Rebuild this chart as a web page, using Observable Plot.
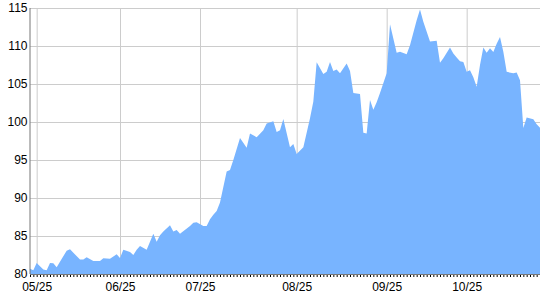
<!DOCTYPE html>
<html>
<head>
<meta charset="utf-8">
<script src="https://cdn.jsdelivr.net/npm/d3@7"></script>
<script src="https://cdn.jsdelivr.net/npm/@observablehq/plot@0.6"></script>
<style>
  html, body { margin: 0; padding: 0; background: #fff; }
  #chart { width: 540px; height: 300px; }
  svg { font-family: "Liberation Sans", Arial, sans-serif; }
</style>
</head>
<body>
<div id="chart"></div>
<script>
// trading-day index of each traced vertex
const dayIndex = [0,1,2,4,5,6,7,8,11,12,15,16,17,19,21,22,24,26,27,28,30,31,32,33,35,37,38,39,40,42,43,44,45,48,49,50,52,53,54,55,56,57,59,60,61,63,65,66,68,70,71,73,74,75,76,78,79,80,82,84,85,86,88,89,90,91,92,93,95,96,97,99,100,101,102,103,104,105,107,108,110,111,113,114,116,117,118,120,122,123,124,126,127,128,129,130,131,132,133,134,135,136,137,138,139,140,141,142,143,145,146,147,148,149,151,152,153];
const values = [80.7,80.5,81.45,80.6,80.5,81.45,81.4,80.9,83.07,83.25,81.9,81.9,82.2,81.7,81.7,82.06,82.0,82.6,82.1,83.2,82.9,82.5,83.2,83.7,83.2,85.3,84.25,85.1,85.6,86.4,85.6,85.8,85.3,86.3,86.75,86.8,86.3,86.3,87.2,87.8,88.3,89.4,93.5,93.7,95.0,97.9,96.6,98.5,98.0,98.9,99.8,100.1,98.7,98.9,100.4,96.67,97.1,95.8,96.67,100.5,102.7,107.85,106.3,106.6,107.9,106.7,106.9,106.4,107.7,106.7,103.8,103.7,98.6,98.5,102.9,101.6,102.6,103.8,106.4,112.85,109.1,109.25,108.9,110.1,113.4,114.8,113.2,110.6,110.7,107.8,108.4,109.8,109.0,108.5,108.0,107.9,106.6,106.8,105.9,104.65,107.5,109.8,109.1,109.7,109.2,110.3,111.2,109.25,106.6,106.4,106.5,105.5,99.2,100.6,100.35,99.7,99.25];
const tickIndex = [2, 27, 51, 80, 107, 131];
const tickLabels = ["05/25", "06/25", "07/25", "08/25", "09/25", "10/25"];
const yTicks = [80, 85, 90, 95, 100, 105, 110, 115];
const lastIndex = 153;

const data = dayIndex.map((d, i) => ({day: d, value: values[i]}));
const labelOf = new Map(tickIndex.map((d, i) => [d, tickLabels[i]]));

const chart = Plot.plot({
  width: 540,
  height: 300,
  marginLeft: 30,
  marginRight: 0,
  marginTop: 8,
  marginBottom: 26,
  style: {fontSize: "12px", fontFamily: "'Liberation Sans', Arial, sans-serif", color: "#000", background: "#fff"},
  x: {domain: [0, lastIndex], axis: null, label: null},
  y: {domain: [80, 115], axis: null, label: null},
  marks: [
    Plot.ruleY(yTicks, {stroke: "#cccccc", strokeWidth: 1}),
    Plot.ruleX(tickIndex, {stroke: "#cccccc", strokeWidth: 1}),
    Plot.ruleX([lastIndex], {stroke: "#cccccc", strokeWidth: 1}),
    Plot.areaY(data, {x: "day", y1: 80, y2: "value", fill: "#78b4ff", curve: "linear"}),
    Plot.axisX(d3.range(0, lastIndex + 1), {tickSize: 3, tickFormat: () => "", stroke: "#000", strokeWidth: 1, label: null}),
    Plot.axisX(tickIndex, {tickSize: 0, tickPadding: 8, tickFormat: d => labelOf.get(d), fill: "#000", label: null}),
    Plot.axisY(yTicks, {tickSize: 0, tickPadding: 3, fill: "#000", label: null}),
    Plot.ruleY([80], {stroke: "#777", strokeWidth: 1}),
    Plot.ruleX([0], {stroke: "#777", strokeWidth: 1, dx: -0.5})
  ]
});
document.getElementById("chart").appendChild(chart);
</script>
</body>
</html>
